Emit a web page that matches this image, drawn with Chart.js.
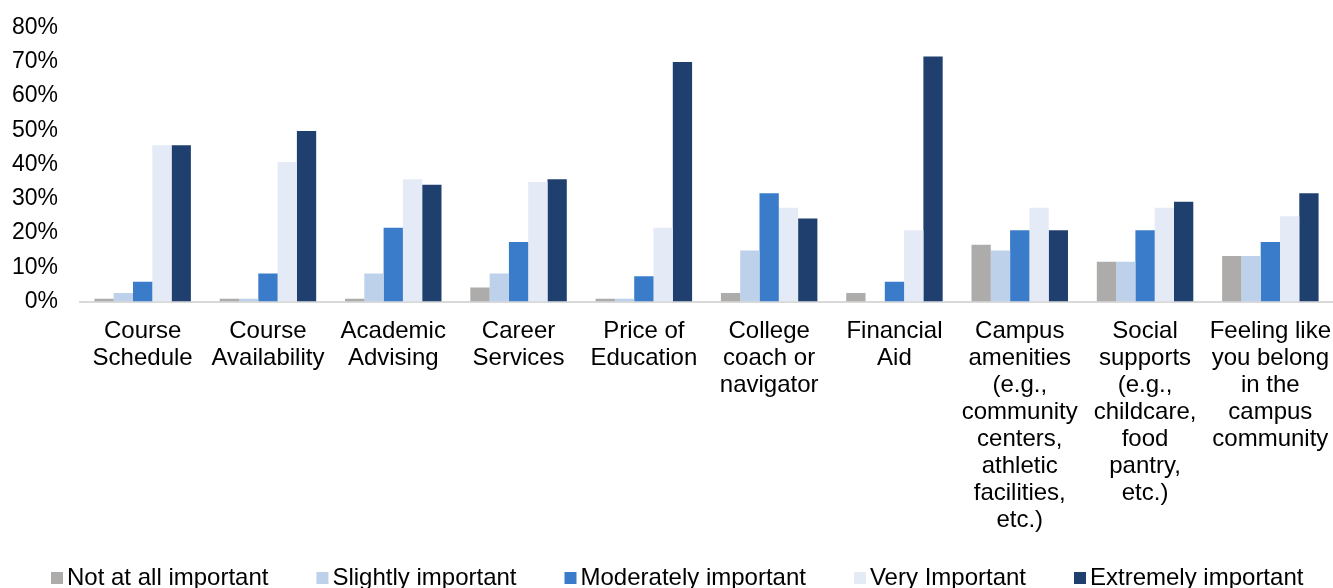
<!DOCTYPE html>
<html>
<head>
<meta charset="utf-8">
<script src="https://cdn.jsdelivr.net/npm/chart.js@4/dist/chart.umd.min.js"></script>
<style>
  html, body { margin: 0; padding: 0; background: #ffffff; }
  #wrap { width: 1333px; height: 588px; }
</style>
</head>
<body>
<div id="wrap"><canvas id="chart" width="1333" height="588"></canvas></div>
<script>
// Factors rated by importance (% of respondents)
const categories = [
  ["Course", "Schedule"],
  ["Course", "Availability"],
  ["Academic", "Advising"],
  ["Career", "Services"],
  ["Price of", "Education"],
  ["College", "coach or", "navigator"],
  ["Financial", "Aid"],
  ["Campus", "amenities", "(e.g.,", "community", "centers,", "athletic", "facilities,", "etc.)"],
  ["Social", "supports", "(e.g.,", "childcare,", "food", "pantry,", "etc.)"],
  ["Feeling like", "you belong", "in the", "campus", "community"]
];

const seriesNames = ["Not at all important", "Slightly important", "Moderately important", "Very Important", "Extremely important"];

const notAtAll   = [0.8, 0.8, 0.8, 4.1, 0.8, 2.5, 2.5, 16.6, 11.6, 13.3];
const slightly   = [2.5, 0.8, 8.2, 8.2, 0.8, 14.9, 0, 14.9, 11.6, 13.3];
const moderately = [5.8, 8.2, 21.5, 17.4, 7.4, 31.6, 5.8, 20.8, 20.8, 17.4];
const very       = [45.6, 40.7, 35.7, 34.9, 21.5, 27.4, 20.8, 27.4, 27.4, 24.9];
const extremely  = [45.6, 49.8, 34.1, 35.7, 69.9, 24.2, 71.5, 20.8, 29.1, 31.6];

const yTicks = [0, 10, 20, 30, 40, 50, 60, 70, 80];

const colors = ["#AEABAB", "#BDD1EA", "#3A7CC9", "#E4EAF6", "#1F406F"];
const FONT = "'Liberation Sans', Arial, sans-serif";

const seriesValues = [notAtAll, slightly, moderately, very, extremely];

// Legend drawn along the bottom edge: small square swatch, tight gap, text
const bottomLegend = {
  id: 'bottomLegend',
  afterDraw(chart) {
    const ctx = chart.ctx;
    ctx.save();
    ctx.font = "24px " + FONT;
    ctx.textBaseline = 'middle';
    ctx.textAlign = 'left';
    let x = 51;
    const yc = 578;
    chart.data.datasets.forEach((ds) => {
      ctx.fillStyle = ds.backgroundColor;
      ctx.fillRect(x, yc - 6, 12, 12);
      ctx.fillStyle = '#000000';
      ctx.fillText(ds.label, x + 16, yc);
      x += 16 + ctx.measureText(ds.label).width + 48;
    });
    ctx.restore();
  }
};

new Chart(document.getElementById('chart'), {
  type: 'bar',
  data: {
    labels: categories,
    datasets: seriesValues.map((vals, i) => ({
      label: seriesNames[i],
      data: vals,
      backgroundColor: colors[i],
      borderWidth: 0,
      categoryPercentage: 0.77,
      barPercentage: 1.0
    }))
  },
  options: {
    responsive: false,
    animation: false,
    devicePixelRatio: 1,
    layout: { padding: { top: 27.5, left: 0, right: 0, bottom: 56 } },
    plugins: {
      legend: { display: false },
      tooltip: { enabled: false }
    },
    scales: {
      x: {
        grid: { display: false, drawTicks: false },
        border: { display: true, color: '#D9D9D9', width: 2 },
        afterFit(axis) {
          axis.height = 230.5;
          axis.paddingLeft = 0;
          axis.paddingRight = 0;
        },
        ticks: {
          color: '#000000',
          font: { family: FONT, size: 24, lineHeight: 27 / 24 },
          padding: 16.5,
          maxRotation: 0,
          minRotation: 0,
          autoSkip: false
        }
      },
      y: {
        min: yTicks[0],
        max: yTicks[yTicks.length - 1],
        grid: { display: false, drawTicks: false },
        border: { display: false },
        afterFit(axis) {
          axis.width = 80;
          axis.paddingTop = 0;
          axis.paddingBottom = 0;
        },
        afterBuildTicks(axis) { axis.ticks = yTicks.map(v => ({ value: v })); },
        ticks: {
          color: '#000000',
          font: { family: FONT, size: 23 },
          padding: 22,
          callback: (v) => v + '%'
        }
      }
    }
  },
  plugins: [bottomLegend]
});
</script>
</body>
</html>
